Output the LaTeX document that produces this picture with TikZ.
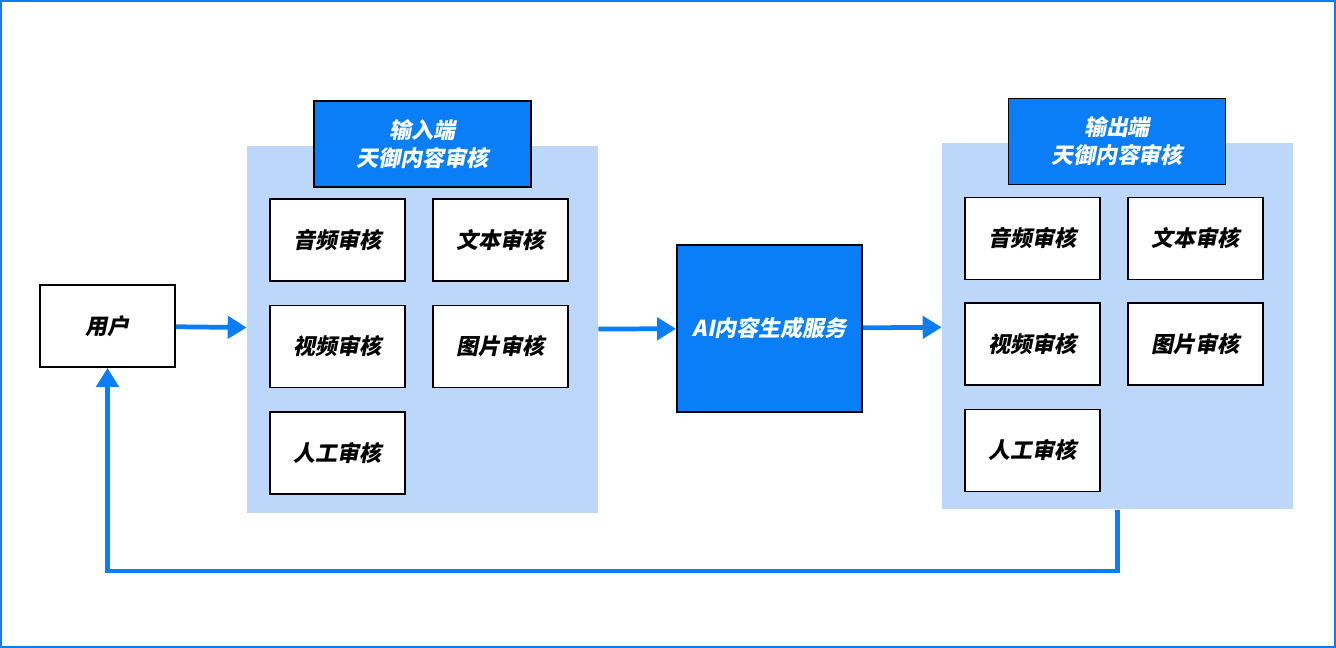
\documentclass[tikz,border=0pt]{standalone}
\usepackage{fontspec}
\setmainfont{Noto Sans CJK SC}[FakeSlant=0.2,BoldFeatures={FakeSlant=0.2}]
\usetikzlibrary{positioning,arrows.meta}

\definecolor{aliblue}{HTML}{0A7EF6}
\definecolor{panelblue}{HTML}{BDD7FB}

\begin{document}
\begin{tikzpicture}[
  x=0.02cm, y=-0.02cm,
  font=\bfseries\fontsize{12.5}{16}\selectfont,
  check/.style={draw=black,line width=1.1pt,fill=white,minimum width=2.7cm,minimum height=1.64cm,inner sep=0pt},
  panel/.style={fill=panelblue,minimum width=7.02cm,minimum height=7.34cm,inner sep=0pt},
  header/.style={draw=black,line width=1.1pt,fill=aliblue,text=white,minimum width=4.34cm,minimum height=1.72cm,align=center,inner sep=0pt},
  arrow/.style={-{Triangle[length=3.8mm,width=4.4mm]},draw=aliblue,line width=2.7pt},
]

  % Frame of the whole picture.
  \useasboundingbox (0,0) rectangle (1336,648);
  \draw[aliblue,line width=1.1pt] (1,1) rectangle (1335,647);

  % User and the generation service.
  \node[check] (user) at (107.5,326) {用户};
  \node[header,minimum width=3.7cm,minimum height=3.34cm] (ai) at (769.5,328.5) {AI内容生成服务};

  % Input side review.
  \node[panel] (lpanel) at (422.5,329.5) {};
  \node[header] (lhead) at (422.5,144) {输入端\\天御内容审核};
  \node[check] (laudio) at (337.5,240) {音频审核};
  \node[check] (ltext) at (500.5,240) {文本审核};
  \node[check] (lvideo) at (337.5,346.5) {视频审核};
  \node[check] (limage) at (500.5,346.5) {图片审核};
  \node[check] (lmanual) at (337.5,453) {人工审核};

  % Output side review.
  \node[panel] (rpanel) at (1117.5,326) {};
  \node[header] (rhead) at (1117,141.5) {输出端\\天御内容审核};
  \node[check] (raudio) at (1032.5,238.5) {音频审核};
  \node[check] (rtext) at (1195.5,238.5) {文本审核};
  \node[check] (rvideo) at (1032.5,344) {视频审核};
  \node[check] (rimage) at (1195.5,344) {图片审核};
  \node[check] (rmanual) at (1032.5,450.5) {人工审核};

  \draw[arrow] (user) -- (lpanel);
  \draw[arrow] (lpanel) -- (ai);
  \draw[arrow] (ai) -- (rpanel);

  % Result goes back to the user.
  \coordinate (back) at (1117.5,571);
  \draw[arrow] (rpanel.south) -- (back) -| (user.south);

\end{tikzpicture}
\end{document}
